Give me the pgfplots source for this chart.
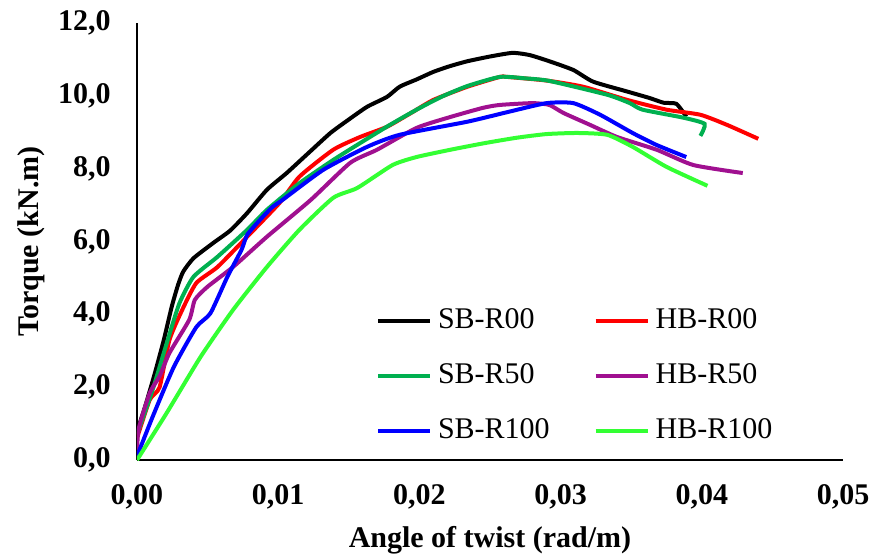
\documentclass[border=0pt]{standalone}
\usepackage{pgfplots}
\pgfplotsset{compat=1.18}
\usepackage{fontspec}
\setmainfont{Liberation Serif}
\definecolor{cSBfifty}{RGB}{0,176,80}
\definecolor{cHBfifty}{RGB}{160,16,144}
\definecolor{cHBhund}{RGB}{51,255,51}
\begin{document}
\fontsize{15}{18}\selectfont
\begin{tikzpicture}
\begin{axis}[
  name=ax,
  scale only axis,
  width=353pt, height=218.5pt,
  xmin=0, xmax=0.05, ymin=0, ymax=12,
  axis lines*=left,
  axis line style={line width=1.3pt},
  major tick length=0pt,
  xtick={0,0.01,0.02,0.03,0.04,0.05},
  xticklabels={{0,00},{0,01},{0,02},{0,03},{0,04},{0,05}},
  ytick={0,2,4,6,8,10,12},
  yticklabels={{0,0},{2,0},{4,0},{6,0},{8,0},{10,0},{12,0}},
  xticklabel style={font=\bfseries, yshift=-7pt},
  yticklabel style={font=\bfseries, xshift=-8pt},
  scaled x ticks=false,
  xlabel={\bfseries Angle of twist (rad/m)},
  ylabel={\bfseries Torque (kN.m)},
  xlabel style={at={(axis description cs:0.5,0)}, anchor=north, yshift=-28pt},
  ylabel style={at={(axis description cs:0,0.5)}, anchor=south, yshift=41pt},
  every axis plot/.append style={line width=2pt, smooth, tension=0.35},
  legend columns=2,
  legend cell align=left,
  legend style={draw=none, fill=none, inner sep=0pt,
    at={(axis cs:0.0169,4.45)}, anchor=north west,
    nodes={inner xsep=3pt, inner ysep=5pt},
    row sep=5.3pt,
    /tikz/every even column/.append style={column sep=19pt}},
  legend image code/.code={\draw[#1, line width=2pt] (0pt,0pt) -- (26pt,0pt);},
]
\addplot[black] coordinates {(0,0.78)(0.0006,1.5)(0.00127,2.39)(0.0019,3.3)(0.00246,4.21)(0.0029,4.8)(0.00327,5.17)(0.0040,5.54)(0.0054,5.96)(0.0066,6.3)(0.0078,6.78)(0.0092,7.42)(0.0106,7.88)(0.0122,8.45)(0.0137,8.98)(0.0150,9.35)(0.0163,9.70)(0.0177,9.97)(0.0186,10.25)(0.0198,10.45)(0.021,10.66)(0.0222,10.82)(0.0234,10.95)(0.025,11.08)(0.0266,11.18)(0.0278,11.12)(0.0292,10.95)(0.0309,10.71)(0.0323,10.39)(0.0347,10.12)(0.0363,9.94)(0.0373,9.81)(0.0382,9.78)(0.0389,9.43)};
\addlegendentry{SB-R00}
\addplot[red] coordinates {(0,0.6)(0.0009,1.65)(0.0016,2.0)(0.0023,3.3)(0.0032,4.12)(0.0042,4.86)(0.0057,5.3)(0.0078,6.13)(0.0101,7.06)(0.0115,7.78)(0.0139,8.52)(0.0158,8.87)(0.0177,9.15)(0.0195,9.55)(0.021,9.89)(0.0234,10.25)(0.0257,10.52)(0.0262,10.52)(0.029,10.42)(0.0316,10.25)(0.0347,9.89)(0.0375,9.62)(0.0399,9.48)(0.0418,9.2)(0.044,8.82)};
\addlegendentry{HB-R00}
\addplot[cSBfifty] coordinates {(0,0.7)(0.0011,1.92)(0.0021,3.2)(0.003,4.3)(0.004,5.03)(0.0057,5.58)(0.0078,6.32)(0.0092,6.87)(0.0115,7.6)(0.0139,8.24)(0.016,8.75)(0.0179,9.2)(0.0198,9.62)(0.0216,9.98)(0.0234,10.27)(0.0257,10.52)(0.0275,10.48)(0.0292,10.41)(0.0333,10.03)(0.0349,9.8)(0.0358,9.62)(0.0387,9.4)(0.0402,9.23)(0.0399,8.9)};
\addlegendentry{SB-R50}
\addplot[cHBfifty] coordinates {(0,0)(0.0001,0.82)(0.0009,1.84)(0.0016,2.3)(0.0023,2.94)(0.0037,3.85)(0.0041,4.4)(0.005,4.76)(0.0068,5.3)(0.0092,6.13)(0.0123,7.14)(0.0151,8.16)(0.017,8.52)(0.0198,9.12)(0.0222,9.42)(0.0245,9.67)(0.0257,9.75)(0.028,9.8)(0.0292,9.75)(0.0302,9.53)(0.0321,9.2)(0.034,8.87)(0.0368,8.52)(0.0394,8.1)(0.0429,7.88)};
\addlegendentry{HB-R50}
\addplot[blue] coordinates {(0,0.1)(0.0011,1.18)(0.0026,2.55)(0.0042,3.65)(0.0052,4.03)(0.0064,5.03)(0.0074,5.77)(0.0078,6.18)(0.0087,6.59)(0.0096,6.95)(0.0103,7.14)(0.0132,7.97)(0.0163,8.6)(0.0186,8.93)(0.0234,9.29)(0.0262,9.55)(0.029,9.8)(0.0309,9.8)(0.0328,9.48)(0.0351,8.98)(0.0368,8.65)(0.0389,8.32)};
\addlegendentry{SB-R100}
\addplot[cHBhund] coordinates {(0,0)(0.0021,1.29)(0.0045,2.83)(0.0068,4.12)(0.0092,5.3)(0.0115,6.32)(0.0139,7.2)(0.0156,7.47)(0.0181,8.1)(0.0198,8.32)(0.0222,8.52)(0.0246,8.7)(0.0269,8.85)(0.029,8.95)(0.0312,8.98)(0.0333,8.93)(0.0351,8.6)(0.0375,8.05)(0.0404,7.53)};
\addlegendentry{HB-R100}
\end{axis}
\pgfresetboundingbox
\path[use as bounding box] ([shift={(-68.5pt,-49.5pt)}]ax.south west) rectangle ([shift={(14.5pt,11.5pt)}]ax.north east);
\end{tikzpicture}
\end{document}
